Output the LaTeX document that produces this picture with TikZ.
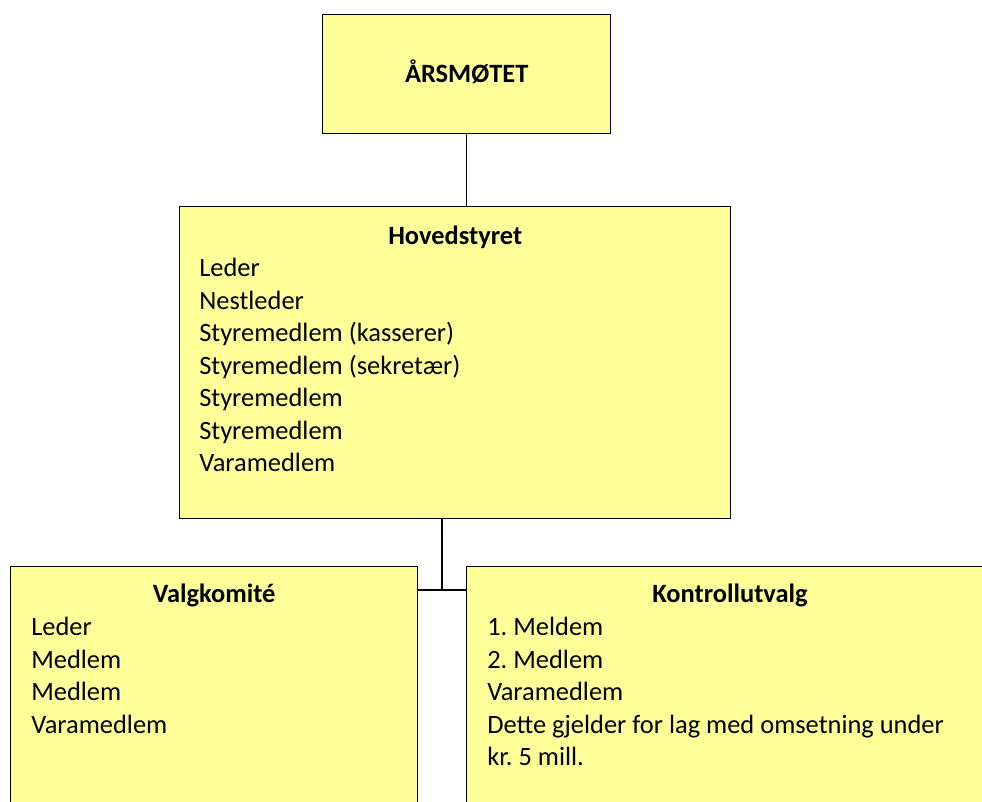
\documentclass[tikz,border=0pt]{standalone}
\usepackage{fontspec}
\setmainfont{Carlito}
\usetikzlibrary{calc}
\definecolor{boxyellow}{HTML}{FFFF99}
\frenchspacing

\begin{document}
\begin{tikzpicture}[x={(0.025cm,0cm)}, y={(0cm,-0.025cm)}]
%stylesdesnœuds
\tikzstyle{boxOrg}=[rectangle, draw=black, line width=0.9pt, fill=boxyellow, inner sep=0pt, anchor=north west]
\tikzstyle{textTitle}=[rectangle, text=black, inner sep=0pt, font=\fontsize{18.8}{23}\selectfont\bfseries]
\tikzstyle{textList}=[rectangle, text=black, inner sep=0pt, align=left, anchor=north west, font=\fontsize{18.8}{23.1}\selectfont]
\tikzstyle{link}=[line width=0.9pt]

\useasboundingbox (0,0) rectangle (982,802);
\clip (0,0) rectangle (982,802);

%boxes
\node[boxOrg, minimum width=7.2cm, minimum height=2.975cm] (aarsmote) at (322,14) {};
\node[boxOrg, minimum width=13.775cm, minimum height=7.8cm] (hoved) at (179,206) {};
\node[boxOrg, minimum width=10.175cm, minimum height=7.5cm] (valg) at (10,566) {};
\node[boxOrg, minimum width=14cm, minimum height=7.5cm] (kontroll) at (466,566) {};

%texts
\node[textTitle] (aarsmoteTitle) at ($(aarsmote.center)+(0,-2)$) {ÅRSMØTET};
\node[textTitle, anchor=base] (hovedTitle) at ($(hoved.north)+(0,38.5)$) {Hovedstyret};
\node[textList] (hovedList) at ($(hoved.north west)+(20,52)$) {Leder\\Nestleder\\Styremedlem (kasserer)\\Styremedlem (sekretær)\\Styremedlem\\Styremedlem\\Varamedlem};
\node[textTitle, anchor=base] (valgTitle) at ($(valg.north)+(0,36.5)$) {Valgkomité};
\node[textList] (valgList) at ($(valg.north west)+(21,51)$) {Leder\\Medlem\\Medlem\\Varamedlem};
\node[textTitle, anchor=base] (kontrollTitle) at ($(kontroll.north west)+(264,36.5)$) {Kontrollutvalg};
\node[textList] (kontrollList) at ($(kontroll.north west)+(21,51)$) {1. Meldem\\2. Medlem\\Varamedlem\\Dette gjelder for lag med omsetning under\\kr. 5 mill.};

%connectors
\coordinate (junction) at (442,590);
\draw[link] (aarsmote.south) -- (hoved.north -| aarsmote.south);
\draw[link] (hoved.south -| junction) -- (junction);
\draw[link] (valg.east |- junction) -- (kontroll.west |- junction);

\end{tikzpicture}
\end{document}
